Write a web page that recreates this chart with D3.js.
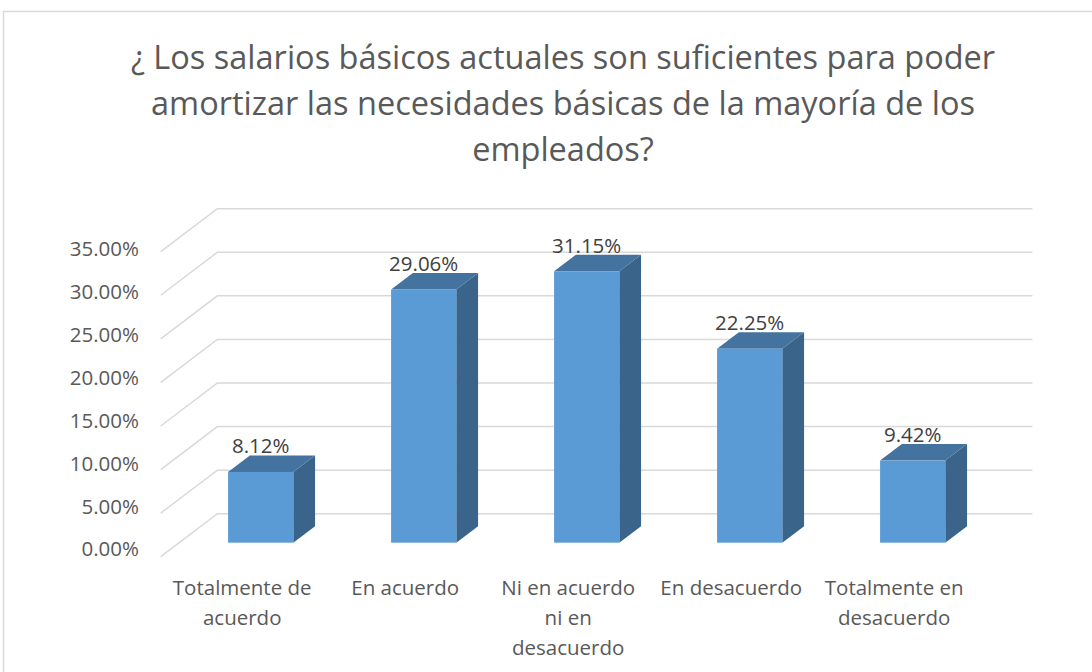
<html lang="es">
<head>
<meta charset="UTF-8">
<title>Salarios básicos</title>
<style>
  body { margin: 0; background: #fff; }
  text { font-family: "Open Sans", "Noto Sans", sans-serif; fill: #595959; }
  .grid { stroke: #d9d9d9; stroke-width: 1.5px; fill: none; }
</style>
</head>
<body>
<svg></svg>
<script src="https://cdnjs.cloudflare.com/ajax/libs/d3/7.8.5/d3.min.js"></script>
<script>

var categories = [
  ["Totalmente de", "acuerdo"],
  ["En acuerdo"],
  ["Ni en acuerdo", "ni en", "desacuerdo"],
  ["En desacuerdo"],
  ["Totalmente en", "desacuerdo"]
];
var values = [8.12, 29.06, 31.15, 22.25, 9.42];
var yTicks = [0, 5, 10, 15, 20, 25, 30, 35];
var titleLines = [
  "¿ Los salarios básicos actuales son suficientes para poder",
  "amortizar las necesidades básicas de la mayoría de los",
  "empleados?"
];

var width = 1092, height = 672;

var svg = d3.select("svg")
  .attr("width", width)
  .attr("height", height);

// chart border
svg.append("rect")
  .attr("x", 3.5).attr("y", 11.5)
  .attr("width", 1100).attr("height", 700)
  .attr("fill", "none")
  .attr("stroke", "#d9d9d9")
  .attr("stroke-width", 1.5);

// 3d depth of the floor
var depthX = 56.7, depthY = -43;
var floorY = 556.7;

var y = d3.scaleLinear().domain([0, 35]).range([0, 305]);
// tick labels sit a bit off the slanted gridline ends
var yLabel = d3.scaleLinear().domain([0, 35]).range([551, 251]);

var x = d3.scaleBand()
  .domain(d3.range(categories.length))
  .range([160.7, 975.7])
  .paddingInner(0.6)
  .paddingOuter(0.3);

// back wall gridlines with slanted side lines
yTicks.forEach(function(v) {
  var fy = floorY - y(v);
  svg.append("path")
    .attr("class", "grid")
    .attr("d", "M" + 160.7 + "," + fy +
      "L" + (160.7 + depthX) + "," + (fy + depthY) +
      "L" + (975.7 + depthX) + "," + (fy + depthY));
});

// y tick labels
svg.selectAll(".ytick")
  .data(yTicks)
  .enter()
  .append("text")
    .attr("class", "ytick")
    .attr("x", 139)
    .attr("y", function(d) { return yLabel(d); })
    .attr("text-anchor", "end")
    .attr("dominant-baseline", "middle")
    .style("font-size", "20.5px")
    .text(function(d) { return d.toFixed(2) + "%"; });

// bars sit between depth d0 and d1
var d0 = 0.326, d1 = 0.71;

var bars = svg.selectAll(".bar")
  .data(values)
  .enter()
  .append("g")
    .attr("class", "bar");

bars.each(function(v, i) {
  var g = d3.select(this);
  var x0 = x(i) + depthX * d0,
      x1 = x0 + x.bandwidth(),
      yb = floorY + depthY * d0,
      yt = yb - y(v),
      dx = depthX * (d1 - d0),
      dy = depthY * (d1 - d0);

  // side
  g.append("path")
    .attr("d", "M" + x1 + "," + yb + "L" + (x1 + dx) + "," + (yb + dy) +
      "L" + (x1 + dx) + "," + (yt + dy) + "L" + x1 + "," + yt + "Z")
    .attr("fill", "#3a6489");
  // top
  g.append("path")
    .attr("d", "M" + x0 + "," + yt + "L" + x1 + "," + yt +
      "L" + (x1 + dx) + "," + (yt + dy) + "L" + (x0 + dx) + "," + (yt + dy) + "Z")
    .attr("fill", "#44739f");
  // front
  g.append("rect")
    .attr("x", x0).attr("y", yt)
    .attr("width", x.bandwidth()).attr("height", y(v))
    .attr("fill", "#5b9bd5");

  g.append("text")
    .attr("x", x0 + x.bandwidth() / 2)
    .attr("y", yt + dy - 2)
    .attr("text-anchor", "middle")
    .style("font-size", "20.5px")
    .style("fill", "#404040")
    .text(v.toFixed(2) + "%");
});

// category labels
categories.forEach(function(lines, i) {
  var t = svg.append("text")
    .attr("x", x(i) + x.bandwidth() / 2)
    .attr("y", 595)
    .attr("text-anchor", "middle")
    .style("font-size", "20.5px");
  lines.forEach(function(s, j) {
    t.append("tspan")
      .attr("x", x(i) + x.bandwidth() / 2)
      .attr("dy", j ? 30 : 0)
      .text(s);
  });
});

// title
svg.selectAll(".title")
  .data(titleLines)
  .enter()
  .append("text")
    .attr("class", "title")
    .attr("x", 563)
    .attr("y", function(d, i) { return 69 + i * 46; })
    .attr("text-anchor", "middle")
    .style("font-size", "32.5px")
    .text(function(d) { return d; });

</script>
</body>
</html>
